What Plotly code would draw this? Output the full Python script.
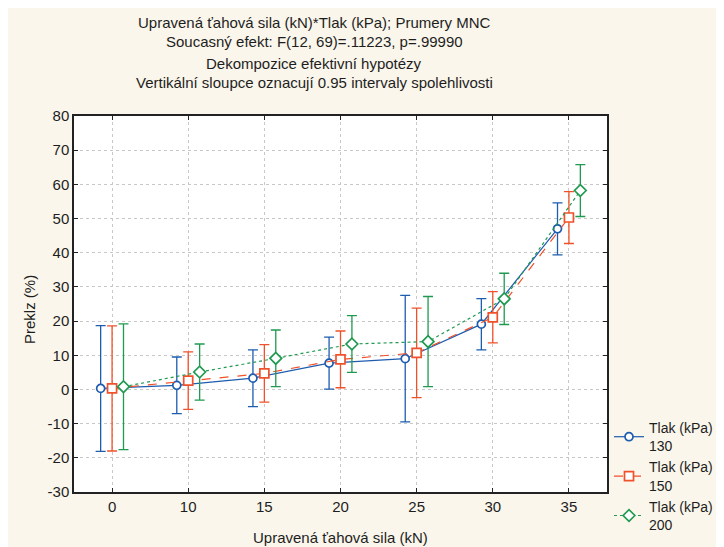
import plotly.graph_objects as go

categories = ["0", "10", "15", "20", "25", "30", "35"]
series_names = ["Tlak (kPa)<br>130", "Tlak (kPa)<br>150", "Tlak (kPa)<br>200"]
mean_130 = [0.3, 1.2, 3.3, 7.7, 9.0, 19.1, 47.0]
ci_130 = [18.4, 8.3, 8.3, 7.6, 18.5, 7.5, 7.6]
mean_150 = [0.3, 2.6, 4.7, 8.8, 10.7, 21.1, 50.3]
ci_150 = [18.3, 8.4, 8.4, 8.3, 13.1, 7.5, 7.6]
mean_200 = [0.8, 5.1, 9.1, 13.3, 14.0, 26.5, 58.2]
ci_200 = [18.4, 8.2, 8.3, 8.3, 13.2, 7.5, 7.6]
y_tick_values = [-30, -20, -10, 0, 10, 20, 30, 40, 50, 60, 70, 80]
y_tick_labels = ["-30", "-20", "-10", "0", "10", "20", "30", "40", "50", "60", "70", "80"]

title_lines = [
    "Upravená ťahová sila (kN)*Tlak (kPa); Prumery MNC",
    "Soucasný efekt: F(12, 69)=.11223, p=.99990",
    "Dekompozice efektivní hypotézy",
    "Vertikální sloupce oznacují 0.95 intervaly spolehlivosti",
]

# page body margin offsets the figure by 8 px
OFF = 8
W, H = 716, 539
ML = 74 - OFF
MT = 116 - OFF
MR = W - (607 - OFF)
MB = H - (492 - OFF)
PW, PH = W - ML - MR, H - MT - MB

font = "Liberation Sans, Arial, sans-serif"
txtcol = "#1e1e1e"
colors = ["#1d5caf", "#f0502a", "#1f9a50"]
symbols = ["circle", "square", "diamond"]
sizes = [8, 9, 9]
dashes = ["solid", "dash", "dot"]
offsets = [-0.15, 0.0, 0.15]
means = [mean_130, mean_150, mean_200]
cis = [ci_130, ci_150, ci_200]

fig = go.Figure()
for i in range(3):
    xs = [k + offsets[i] for k in range(len(categories))]
    fig.add_trace(go.Scatter(
        x=xs, y=means[i], name=series_names[i], mode="lines+markers",
        line=dict(color=colors[i], width=1.2, dash=dashes[i]),
        marker=dict(symbol=symbols[i], size=sizes[i], color="white",
                    line=dict(width=1.7, color=colors[i])),
        error_y=dict(type="data", array=cis[i], visible=True,
                     color=colors[i], thickness=1.3, width=5),
    ))

def px2paper_x(sx):
    return (sx - OFF - ML) / PW

def px2paper_y(sy):
    return (H - MB - (sy - OFF)) / PH

annotations = []
for txt, yy in zip(title_lines, [22, 42, 63, 83]):
    annotations.append(dict(text=txt, xref="paper", yref="paper",
                            x=px2paper_x(314), y=px2paper_y(yy),
                            xanchor="center", yanchor="middle", showarrow=False,
                            font=dict(family=font, size=15, color=txtcol)))
annotations.append(dict(text="Upravená ťahová sila (kN)", xref="paper", yref="paper",
                        x=px2paper_x(340), y=px2paper_y(537), xanchor="center",
                        yanchor="middle", showarrow=False,
                        font=dict(family=font, size=15, color=txtcol)))
annotations.append(dict(text="Preklz (%)", xref="paper", yref="paper",
                        x=px2paper_x(29), y=px2paper_y(310), xanchor="center",
                        yanchor="middle", showarrow=False, textangle=-90,
                        font=dict(family=font, size=15, color=txtcol)))

fig.update_layout(
    width=W, height=H,
    margin=dict(l=ML, r=MR, t=MT, b=MB, autoexpand=False),
    paper_bgcolor="#faf6eb", plot_bgcolor="white",
    font=dict(family=font, size=15, color=txtcol),
    annotations=annotations,
    legend=dict(x=px2paper_x(609), y=px2paper_y(412), xanchor="left", yanchor="top",
                bgcolor="rgba(0,0,0,0)", font=dict(family=font, size=14, color=txtcol),
                tracegroupgap=2, itemwidth=30),
    showlegend=True,
)
fig.update_xaxes(
    range=[-0.5, 6.5], tickmode="array", tickvals=list(range(len(categories))),
    ticktext=categories, showgrid=True, gridcolor="#c8c8c8", griddash="dot", gridwidth=1,
    showline=True, linecolor="#222", linewidth=1.5, mirror="ticks",
    ticks="inside", ticklen=4, tickcolor="#222", zeroline=False, automargin=False,
    tickfont=dict(size=15, color=txtcol),
)
fig.update_yaxes(
    range=[-30, 80], tickmode="array", tickvals=y_tick_values, ticktext=y_tick_labels,
    showgrid=True, gridcolor="#c8c8c8",
    griddash="dot", gridwidth=1, showline=True, linecolor="#222", linewidth=1.5,
    mirror="ticks", ticks="inside", ticklen=4, tickcolor="#222", zeroline=False,
    automargin=False, tickfont=dict(size=15, color=txtcol),
)

fig.write_html("out.html")
